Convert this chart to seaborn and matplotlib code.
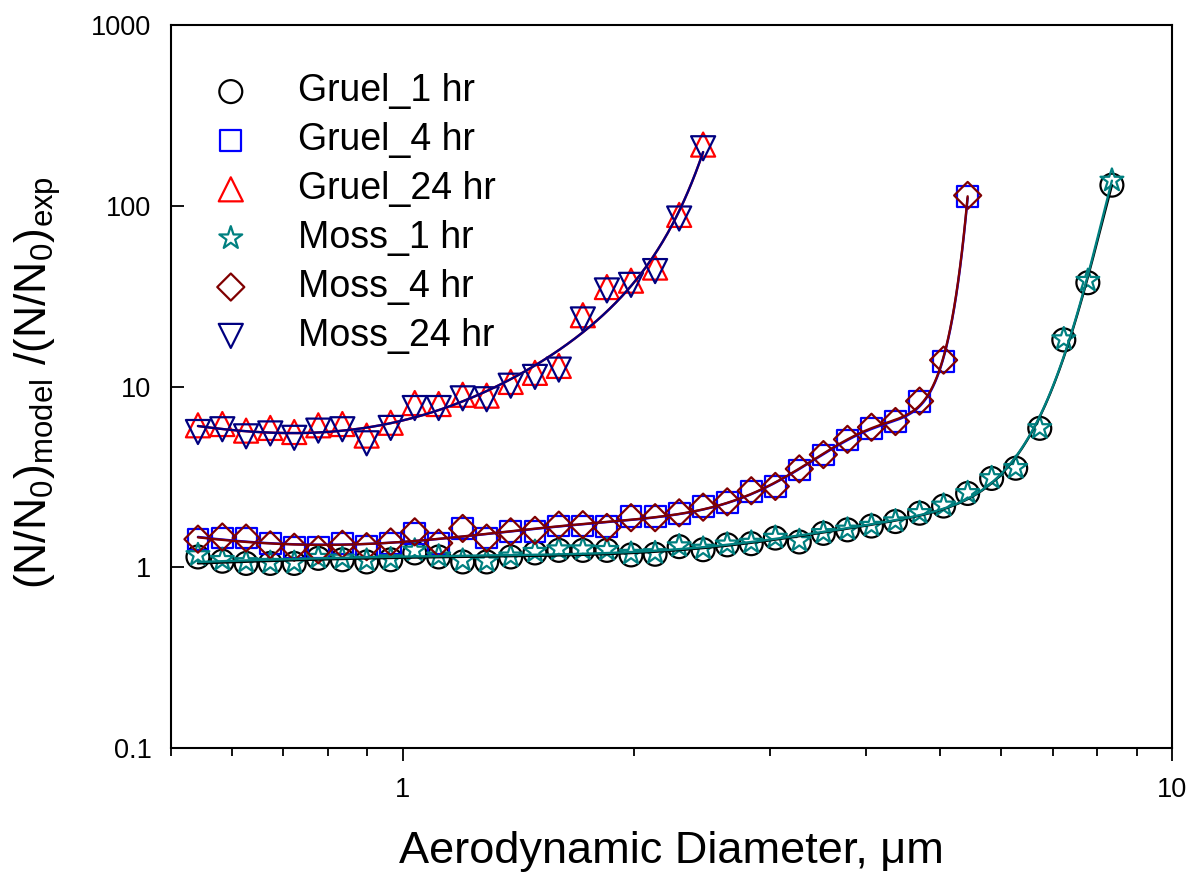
import numpy as np
import pandas as pd
import matplotlib
matplotlib.use("Agg")
import matplotlib.pyplot as plt
from matplotlib import ticker
import seaborn as sns

# ---------------- data ----------------
diameter = [0.542, 0.583, 0.626, 0.673, 0.723, 0.777, 0.835, 0.898, 0.965, 1.037,
            1.114, 1.197, 1.286, 1.382, 1.486, 1.596, 1.715, 1.843, 1.981, 2.129,
            2.288, 2.458, 2.642, 2.839, 3.051, 3.278, 3.523, 3.786, 4.068, 4.371,
            4.698, 5.048, 5.425, 5.829, 6.264, 6.732, 7.234, 7.774, 8.354]

gruel_1hr = [1.14, 1.08, 1.05, 1.05, 1.05, 1.12, 1.10, 1.07, 1.10, 1.20,
             1.14, 1.07, 1.07, 1.14, 1.20, 1.24, 1.24, 1.24, 1.17, 1.18,
             1.30, 1.25, 1.33, 1.35, 1.45, 1.38, 1.54, 1.61, 1.69, 1.79,
             1.99, 2.18, 2.56, 3.10, 3.53, 5.87, 18.1, 37.5, 130.0]
moss_1hr = [1.17, 1.10, 1.07, 1.06, 1.06, 1.13, 1.12, 1.09, 1.11, 1.24,
            1.15, 1.09, 1.08, 1.15, 1.22, 1.26, 1.26, 1.25, 1.19, 1.20,
            1.31, 1.27, 1.34, 1.37, 1.46, 1.40, 1.55, 1.62, 1.70, 1.80,
            2.00, 2.20, 2.58, 3.12, 3.55, 5.90, 18.3, 38.5, 138.0]
gruel_4hr = [1.43, 1.45, 1.45, 1.36, 1.29, 1.29, 1.36, 1.30, 1.36, 1.54,
             1.36, 1.64, 1.45, 1.57, 1.57, 1.69, 1.69, 1.68, 1.90, 1.90,
             1.99, 2.16, 2.28, 2.62, 2.79, 3.45, 4.18, 5.06, 5.87, 6.38,
             8.24, 13.7, 112.0]
moss_4hr = [1.43, 1.47, 1.45, 1.33, 1.29, 1.25, 1.34, 1.30, 1.38, 1.57,
            1.36, 1.64, 1.45, 1.57, 1.60, 1.71, 1.72, 1.66, 1.88, 1.88,
            2.00, 2.15, 2.30, 2.65, 2.80, 3.50, 4.20, 5.10, 5.95, 6.40,
            8.30, 14.0, 114.0]
gruel_24hr = [6.1, 6.2, 5.7, 5.9, 5.6, 6.1, 6.2, 5.35, 6.3, 8.1,
              8.0, 9.0, 8.9, 10.6, 11.9, 13.0, 24.8, 35.5, 38.5, 45.5,
              89.0, 218.0]
moss_24hr = [5.6, 5.8, 5.3, 5.5, 5.2, 5.7, 5.8, 4.85, 5.9, 7.6,
             7.6, 8.6, 8.5, 10.1, 11.3, 12.4, 23.5, 34.0, 36.5, 43.5,
             85.0, 208.0]

series_names = ["Gruel_1 hr", "Gruel_4 hr", "Gruel_24 hr",
                "Moss_1 hr", "Moss_4 hr", "Moss_24 hr"]
series_values = [gruel_1hr, gruel_4hr, gruel_24hr, moss_1hr, moss_4hr, moss_24hr]

y_ticks = [0.1, 1, 10, 100, 1000]
y_tick_labels = ["0.1", "1", "10", "100", "1000"]
x_ticks = [1, 10]
x_tick_labels = ["1", "10"]

# ---------------- style ----------------
colors = ["#000000", "#0000FF", "#FF0000", "#008080", "#800000", "#000080"]
markers = ["o", "s", "^", "*", "D", "v"]
sizes = [272, 225, 300, 300, 190, 300]
fit_degree = [6, 6, 4, 6, 6, 4]
# the two 24 hr series share one fitted curve (both curves coincide in the chart)
fit_source = [[gruel_1hr], [gruel_4hr], [gruel_24hr, moss_24hr],
              [moss_1hr], [moss_4hr], [gruel_24hr, moss_24hr]]

sns.set_theme(style="white")
plt.rcParams["font.family"] = ["Liberation Sans", "DejaVu Sans"]
plt.rcParams["mathtext.default"] = "regular"
for key in ["text.color", "axes.labelcolor", "xtick.color", "ytick.color",
            "axes.edgecolor"]:
    plt.rcParams[key] = "black"

fig = plt.figure(figsize=(11.92, 8.74), dpi=100)
ax = fig.add_axes([171 / 1192, 1 - 748 / 874, (1172 - 171) / 1192, (748 - 25) / 874])
ax.set_xscale("log")
ax.set_yscale("log")

for name, vals, c, m, s, deg, src in zip(series_names, series_values, colors, markers,
                                         sizes, fit_degree, fit_source):
    x = np.array(diameter[:len(vals)])
    y = np.array(vals)
    df = pd.DataFrame({"d": x, "v": y})
    fx = np.concatenate([x for _ in src])
    fy = np.concatenate([np.array(v) for v in src])
    p = np.polynomial.Polynomial.fit(fx, np.log10(fy), deg)
    xs = np.geomspace(x[0], x[-1], 400)
    fit = pd.DataFrame({"d": xs, "v": 10 ** p(xs)})
    sns.lineplot(data=fit, x="d", y="v", color=c, lw=1.7, ax=ax, legend=False,
                 zorder=3)
    sns.scatterplot(data=df, x="d", y="v", marker=m, s=s, facecolors="none",
                    edgecolor=c, linewidth=1.6, label=name, ax=ax, zorder=2)

ax.set_xlim(0.5, 10)
ax.set_ylim(0.1, 1000)

ax.set_yticks(y_ticks)
ax.set_yticklabels(y_tick_labels)
ax.yaxis.set_minor_locator(ticker.NullLocator())
ax.set_xticks(x_ticks)
ax.set_xticklabels(x_tick_labels)
ax.xaxis.set_minor_locator(ticker.LogLocator(base=10, subs=np.arange(2, 10), numticks=20))
ax.xaxis.set_minor_formatter(ticker.NullFormatter())

ax.tick_params(axis="y", which="major", direction="in", length=9, width=1.3,
               labelsize=19.5, pad=14, right=False, left=True)
ax.tick_params(axis="x", which="major", direction="out", length=9, width=1.3,
               labelsize=19.5, pad=12, top=False, bottom=True)
ax.tick_params(axis="x", which="minor", direction="out", length=6, width=1.3,
               top=False, bottom=True)
for sp in ax.spines.values():
    sp.set_linewidth(1.5)
    sp.set_color("black")

ax.set_xlabel("Aerodynamic Diameter, \u03bcm", fontsize=32.5, labelpad=20)
ax.set_ylabel("(N/N$_0$)$_{model}$ /(N/N$_0$)$_{exp}$", fontsize=32)
ax.yaxis.set_label_coords(-0.108, 0.505)

leg = ax.legend(loc="upper left", bbox_to_anchor=(0.041, 0.933), frameon=False,
                fontsize=27, handlelength=1.0, handletextpad=1.3,
                labelspacing=0.343, borderpad=0, borderaxespad=0)

fig.savefig("out.png", dpi=100)
